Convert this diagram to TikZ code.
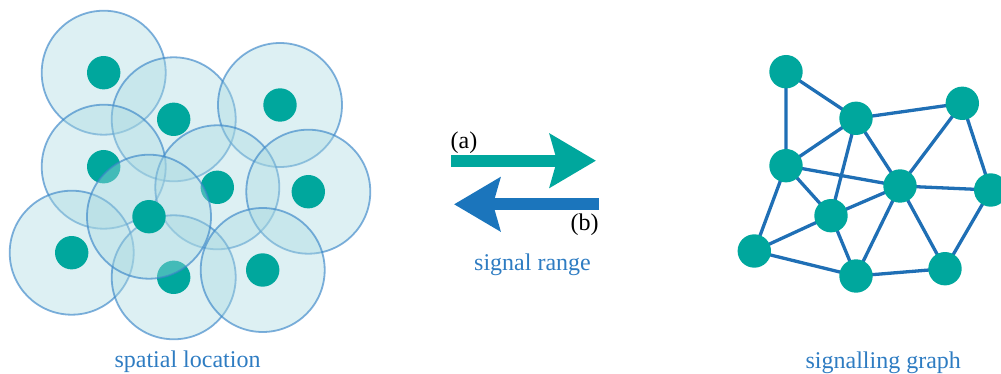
\documentclass[tikz,border=0pt]{standalone}
\usepackage{fontspec}
\setmainfont{Liberation Serif}
\usetikzlibrary{arrows.meta,positioning}
\definecolor{dotcol}{HTML}{00A79D}
\definecolor{linkcol}{HTML}{1F6FB5}
\definecolor{rangecol}{HTML}{A9D9E1}
\definecolor{rimcol}{HTML}{3A86C8}
\definecolor{labcol}{HTML}{2E7CC2}
\definecolor{backcol}{HTML}{1B75BC}

\begin{document}
\begin{tikzpicture}[
  x=1pt, y=-1pt, line cap=round, line join=round,
  cell/.style={circle, minimum size=124pt, inner sep=0pt, fill=rangecol,
               fill opacity=0.4, draw=rimcol, draw opacity=0.65, line width=1.8pt},
  dot/.style={circle, minimum size=33.4pt, inner sep=0pt, fill=dotcol},
  link/.style={linkcol, line width=3.3pt},
  caplab/.style={font=\fontsize{24}{28}\selectfont, text=labcol, anchor=base},
  tag/.style={font=\fontsize{24}{28}\selectfont, anchor=base},
  fat/.style={line width=11.7pt, line cap=butt,
              -{Stealth[length=46pt, width=53pt, inset=7pt]}}]

\useasboundingbox (0,0) rectangle (1001,374);

% ---- (A) spatial location: ranges round each agent --------------------
\foreach \n/\p in {1/{(103.7,72.7)}, 2/{(173.7,119.3)}, 3/{(280,105)},
                   4/{(103.7,166.7)}, 5/{(217.3,187.3)}, 6/{(308.3,191.7)},
                   8/{(71.7,252.7)}, 9/{(173.7,277.3)}, 10/{(262.7,270)}}
  \node[cell] (r\n) at \p {};
\foreach \n/\p in {1/{(103.7,72.7)}, 2/{(173.7,119.3)}, 3/{(280,105)},
                   4/{(103.7,166.7)}, 5/{(217.3,187.3)}, 6/{(308.3,191.7)},
                   8/{(71.7,252.7)}, 9/{(173.7,277.3)}, 10/{(262.7,270)}}
  \node[dot] (d\n) at \p {};
\node[cell] (r7) at (149,216.7) {};
\node[dot] (d7) at (149,216.7) {};
\node[caplab] (spat) at (187.5,367.7) {spatial location};

% ---- (B) the two directions -------------------------------------------
\coordinate (atail) at (451,160.7);
\coordinate (ahead) at (596,160.7);
\coordinate (btail) at (599,204.3);
\coordinate (bhead) at (454,204.3);
\draw[fat, dotcol] (atail) -- (ahead);
\draw[fat, backcol] (btail) -- (bhead);
\node[tag] (laba) at (464,148.3) {(a)};
\node[tag] (labb) at (584.5,230) {(b)};
\node[caplab] (range) at (532.5,270.7) {signal range};

% ---- (C) signalling graph ---------------------------------------------
\coordinate (ga) at (786,71.7);
\coordinate (gb) at (856,118.3);
\coordinate (gc) at (962.3,103.3);
\coordinate (gd) at (786,165.7);
\coordinate (ge) at (900,186);
\coordinate (gf) at (990.7,190);
\coordinate (gg) at (831,215.7);
\coordinate (gh) at (754.3,251);
\coordinate (gi) at (856,276);
\coordinate (gj) at (945,268.7);
\draw[link] (ga) -- (gb) (ga) -- (gd) (gb) -- (gc) (gb) -- (gd)
  (gb) -- (gg) (gb) -- (ge) (gc) -- (ge) (gc) -- (gf)
  (gd) -- (ge) (gd) -- (gg) (gd) -- (gh) (gg) -- (ge)
  (gg) -- (gh) (gg) -- (gi) (ge) -- (gi) (ge) -- (gj)
  (ge) -- (gf) (gf) -- (gj) (gh) -- (gi) (gi) -- (gj);
\foreach \n in {ga,gb,gc,gd,ge,gf,gg,gh,gi,gj}
  \node[dot] (v\n) at (\n) {};
\node[caplab] (graph) at (883.3,368.3) {signalling graph};

\end{tikzpicture}
\end{document}
